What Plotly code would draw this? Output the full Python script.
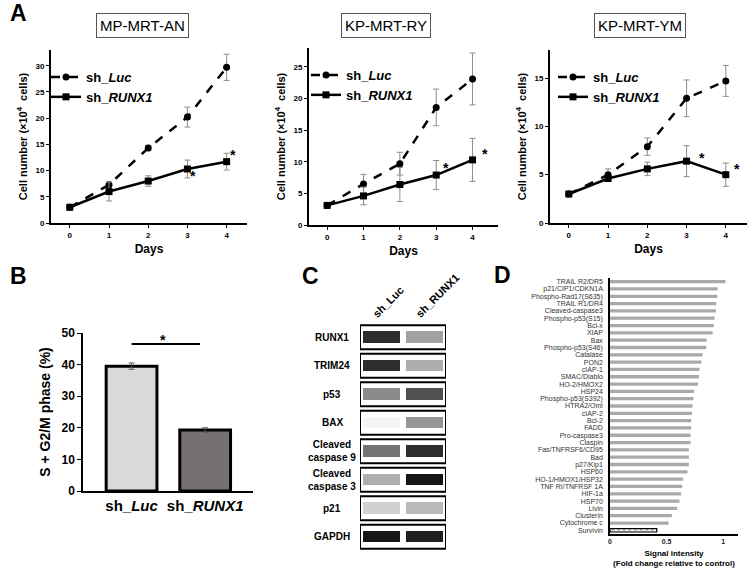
import plotly.graph_objects as go

FONT = "Liberation Sans, Arial, sans-serif"

# ---------------- Data ----------------
days = [0, 1, 2, 3, 4]
groups = ["sh_<i>Luc</i>", "sh_<i>RUNX1</i>"]

cell_lines = ["MP-MRT-AN", "KP-MRT-RY", "KP-MRT-YM"]
an_luc = [3.0, 7.3, 14.3, 20.2, 29.7]
an_luc_err = [0.2, 0.5, 0.5, 1.9, 2.5]
an_runx1 = [3.0, 6.0, 8.0, 10.3, 11.7]
an_runx1_err = [0.2, 1.8, 1.0, 1.7, 1.6]

ry_luc = [3.1, 6.5, 9.7, 18.6, 23.1]
ry_luc_err = [0.2, 1.5, 1.8, 2.9, 4.1]
ry_runx1 = [3.1, 4.6, 6.4, 7.9, 10.3]
ry_runx1_err = [0.2, 1.4, 2.7, 2.3, 3.4]

ym_luc = [3.0, 5.0, 7.9, 12.9, 14.7]
ym_luc_err = [0.1, 0.6, 0.9, 1.9, 1.6]
ym_runx1 = [3.0, 4.6, 5.6, 6.4, 5.0]
ym_runx1_err = [0.1, 0.3, 0.7, 1.6, 1.2]

sig_days = [3, 4]

phase_values = [39.5, 19.3]
phase_err = [1.0, 0.7]

blot_proteins = ["RUNX1", "TRIM24", "p53", "BAX", "Cleaved<br>caspase 9",
                 "Cleaved<br>caspase 3", "p21", "GAPDH"]
blot_lanes = ["sh_Luc", "sh_RUNX1"]
band_luc = [0.85, 0.85, 0.45, 0.0, 0.55, 0.3, 0.15, 0.95]
band_runx1 = [0.35, 0.3, 0.7, 0.4, 0.85, 0.95, 0.25, 0.9]

array_proteins = [
    "TRAIL R2/DR5", "p21/CIP1/CDKN1A", "Phospho-Rad17(S635)", "TRAIL R1/DR4",
    "Cleaved-caspase3", "Phospho-p53(S15)", "Bcl-x", "XIAP", "Bax",
    "Phospho-p53(S46)", "Catalase", "PON2", "cIAP-1", "SMAC/Diablo",
    "HO-2/HMOX2", "HSP24", "Phospho-p53(S392)", "HTRA2/Omi", "cIAP-2", "Bcl-2",
    "FADD", "Pro-caspase3", "Claspin", "Fas/TNFRSF6/CD95", "Bad", "p27/Kip1",
    "HSP60", "HO-1/HMOX1/HSP32", "TNF RI/TNFRSF 1A", "HIF-1a", "HSP70", "Livin",
    "Clusterin", "Cytochrome c", "Survivin"]
array_values = [
    1.02, 0.95, 0.947, 0.938, 0.935, 0.923, 0.917, 0.906, 0.852,
    0.85, 0.817, 0.808, 0.79, 0.785, 0.776, 0.743, 0.737, 0.728, 0.723, 0.717,
    0.717, 0.711, 0.711, 0.696, 0.696, 0.696, 0.684, 0.646, 0.637, 0.628,
    0.614, 0.593, 0.546, 0.516, 0.413]

W, H = 753, 573


def px_x(p):
    return p / W


def px_y(p):
    return 1 - p / H


fig = go.Figure()

# ---------------- Panel A ----------------
panelA = [
    (cell_lines[0], an_luc, an_luc_err, an_runx1, an_runx1_err, "x", "y", "legend",
     (51, 247), (50, 223), [-0.48, 4.52], [0, 33], (97, 188), 46),
    (cell_lines[1], ry_luc, ry_luc_err, ry_runx1, ry_runx1_err, "x2", "y2", "legend2",
     (309, 498), (48, 225), [-0.5, 4.7], [0, 28], (348, 423), 306),
    (cell_lines[2], ym_luc, ym_luc_err, ym_runx1, ym_runx1_err, "x3", "y3", "legend3",
     (550, 747), (50, 223), [-0.48, 4.54], [0, 17.9], (597, 682), 553),
]
# pixel offsets of the significance stars (day 3, day 4) for each panel
star_shift = [[(6, -7), (6, 7)], [(10, 7), (12, 6)], [(15, 3), (11, 6)]]

for i, (name, luc, luce, rx, rxe, xa, ya, lg, xd, yd, xr, yr, box, lgx) in enumerate(panelA):
    fig.add_trace(go.Scatter(
        x=days, y=luc, mode="lines+markers", name=groups[0],
        line=dict(color="black", width=2.5, dash="dash"),
        marker=dict(symbol="circle", size=7, color="black"),
        error_y=dict(type="data", array=luce, color="#8c8c8c", thickness=1, width=3),
        xaxis=xa, yaxis=ya, legend=lg))
    fig.add_trace(go.Scatter(
        x=days, y=rx, mode="lines+markers", name=groups[1],
        line=dict(color="black", width=2.5),
        marker=dict(symbol="square", size=7, color="black"),
        error_y=dict(type="data", array=rxe, color="#8c8c8c", thickness=1, width=3),
        xaxis=xa, yaxis=ya, legend=lg))
    axn = "" if i == 0 else str(i + 1)
    fig.layout["xaxis" + axn] = dict(
        domain=[px_x(xd[0]), px_x(xd[1])], anchor=ya, range=xr, automargin=False,
        tickvals=days, showline=True, linecolor="black", linewidth=2,
        ticks="outside", ticklen=3, tickcolor="black", showgrid=False, zeroline=False,
        tickfont=dict(family=FONT, size=8, color="black", weight="bold"),
        title=dict(text="Days", font=dict(family=FONT, size=12, color="black", weight="bold"),
                   standoff=6))
    fig.layout["yaxis" + axn] = dict(
        domain=[px_y(yd[1]), px_y(yd[0])], anchor=xa, range=yr, automargin=False,
        showline=True, linecolor="black", linewidth=2, dtick=5,
        ticks="outside", ticklen=3, tickcolor="black", showgrid=False, zeroline=False,
        tickfont=dict(family=FONT, size=8, color="black", weight="bold"),
        title=dict(text="Cell number (\u00d710<sup>4</sup>  cells)",
                   font=dict(family=FONT, size=11, color="black", weight="bold"),
                   standoff=6))
    fig.layout[lg] = dict(
        x=px_x(lgx), y=px_y(yd[0] + 12), xanchor="left", yanchor="top",
        bgcolor="rgba(0,0,0,0)", tracegroupgap=0, itemwidth=30,
        font=dict(family=FONT, size=13, color="black", weight="bold"))
    fig.add_annotation(
        x=(box[0] + box[1]) / 2 / W, y=px_y(25), xref="paper", yref="paper",
        xanchor="center", yanchor="middle",
        text=name, showarrow=False, bordercolor="#555", borderwidth=1, borderpad=3,
        font=dict(family=FONT, size=15, color="black"))
    for k, d in enumerate(sig_days):
        fig.add_annotation(
            x=d, y=rx[d], xref=xa, yref=ya, text="*", showarrow=False,
            xanchor="center", yanchor="middle",
            xshift=star_shift[i][k][0], yshift=star_shift[i][k][1],
            font=dict(family=FONT, size=14, color="black", weight="bold"))

# ---------------- Panel B ----------------
fig.add_trace(go.Bar(
    x=[0, 1], y=phase_values, width=0.69,
    marker=dict(color=["#d9d9d9", "#767171"], line=dict(color="black", width=3)),
    error_y=dict(type="data", array=phase_err, color="#555", thickness=1, width=3),
    xaxis="x4", yaxis="y4", showlegend=False))
fig.update_layout(
    xaxis4=dict(domain=[px_x(83), px_x(253)], anchor="y4", range=[-0.66, 1.65],
                automargin=False,
                tickvals=[0, 1], ticktext=groups, showline=True, linecolor="black",
                linewidth=1.5, ticks="", showgrid=False, zeroline=False,
                tickfont=dict(family=FONT, size=15, color="black", weight="bold")),
    yaxis4=dict(domain=[px_y(491), px_y(333)], anchor="x4", range=[0, 50], dtick=10,
                automargin=False,
                showline=True, linecolor="black", linewidth=1.5, ticks="outside",
                ticklen=4, tickcolor="black", showgrid=False, zeroline=False,
                tickfont=dict(family=FONT, size=12, color="black", weight="bold"),
                title=dict(text="S + G2/M phase (%)", standoff=8,
                           font=dict(family=FONT, size=14, color="black", weight="bold"))))
fig.add_shape(type="line", xref="x4", yref="y4", x0=0, x1=0.93, y0=46.5, y1=46.5,
              line=dict(color="black", width=2))
fig.add_annotation(xref="x4", yref="y4", x=0.43, y=46.5, text="*", showarrow=False,
                   xanchor="center", yanchor="middle", yshift=4,
                   font=dict(family=FONT, size=14, color="black", weight="bold"))

# ---------------- Panel C ----------------
fig.add_trace(go.Heatmap(
    z=[[a, b] for a, b in zip(band_luc, band_runx1)],
    x=blot_lanes, y=list(range(len(blot_proteins))),
    colorscale=[[0, "#f4f4f4"], [1, "#0a0a0a"]], zmin=0, zmax=1,
    xgap=6, ygap=17, showscale=False, xaxis="x5", yaxis="y5", hoverinfo="skip"))
fig.update_layout(
    xaxis5=dict(domain=[px_x(360), px_x(446)], anchor="y5", side="top",
                range=[-0.5, 1.5], tickangle=-45, showgrid=False, zeroline=False,
                showline=False, ticks="", automargin=False, ticklabelshift=-8,
                tickfont=dict(family=FONT, size=11, color="black", weight="bold")),
    yaxis5=dict(domain=[px_y(551), px_y(323)], anchor="x5", range=[7.5, -0.5],
                automargin=False,
                showticklabels=False, showgrid=False, zeroline=False, showline=False))
for i, prot in enumerate(blot_proteins):
    fig.add_shape(type="rect", xref="x5", yref="y5", x0=-0.5, x1=1.5,
                  y0=i - 0.42, y1=i + 0.42, line=dict(color="black", width=2))
    fig.add_annotation(xref="paper", yref="y5", x=px_x(332), y=i, text=prot,
                       showarrow=False, align="center", xanchor="center", yanchor="middle",
                       font=dict(family=FONT, size=10, color="black", weight="bold"))

# ---------------- Panel D ----------------
n = len(array_proteins)
bar_colors = ["#a9a9a9"] * (n - 1) + ["#ffffff"]
bar_shapes = [""] * (n - 1) + ["x"]
bar_lw = [0] * (n - 1) + [1.2]
fig.add_trace(go.Bar(
    x=array_values, y=array_proteins, orientation="h", width=0.45,
    marker=dict(color=bar_colors, line=dict(color="black", width=bar_lw),
                pattern=dict(shape=bar_shapes, fgcolor="#777", bgcolor="white",
                             size=4, solidity=0.4)),
    xaxis="x6", yaxis="y6", showlegend=False))
fig.update_layout(
    xaxis6=dict(domain=[px_x(610), px_x(738)], anchor="y6", range=[0, 1.13],
                automargin=False,
                tickvals=[0, 0.5, 1], ticktext=["0", "0.5", "1"], showline=True,
                linecolor="black", linewidth=1.5, ticks="", showgrid=False,
                zeroline=False,
                tickfont=dict(family=FONT, size=7, color="#222", weight="bold"),
                title=dict(text="Signal intensity<br>(Fold change relative to control)",
                           standoff=6,
                           font=dict(family=FONT, size=8, color="black", weight="bold"))),
    yaxis6=dict(domain=[px_y(534), px_y(278)], anchor="x6", type="category",
                automargin=False, tickmode="array", tickvals=array_proteins,
                range=[n - 0.5, -0.5], showline=True, linecolor="black", linewidth=1.5,
                ticks="", showgrid=False, zeroline=False, ticklabelstandoff=4,
                tickfont=dict(family=FONT, size=7, color="#333")))

# ---------------- Panel letters ----------------
for letter, (lx, ly) in zip("ABCD", [(18, 13), (18, 276), (310, 276), (502, 275)]):
    fig.add_annotation(xref="paper", yref="paper", x=px_x(lx), y=px_y(ly), text=letter,
                       showarrow=False, xanchor="center", yanchor="middle",
                       font=dict(family=FONT, size=23, color="black", weight="bold"))

fig.update_layout(
    width=W, height=H, margin=dict(l=0, r=0, t=0, b=0),
    paper_bgcolor="white", plot_bgcolor="white", showlegend=True,
    font=dict(family=FONT, color="black"))

fig.write_html("out.html", config={"displayModeBar": False},
               post_script="document.body.style.margin='0px';")
